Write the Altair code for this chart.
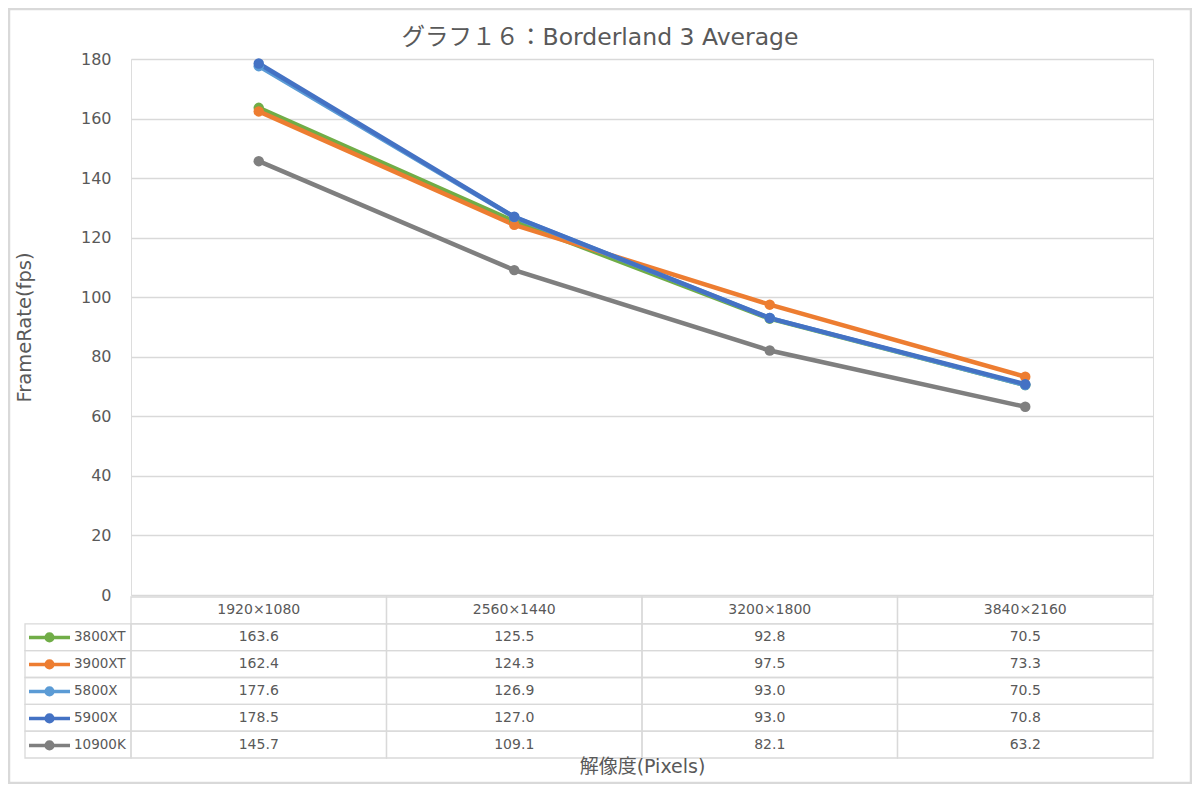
import altair as alt
import pandas as pd

FONT = "DejaVu Sans, Noto Sans CJK JP"
TXT = "#595959"
GRID = "#d9d9d9"

resolutions = ["1920×1080", "2560×1440", "3200×1800", "3840×2160"]
series_names = ["3800XT", "3900XT", "5800X", "5900X", "10900K"]
fps_3800xt = [163.6, 125.5, 92.8, 70.5]
fps_3900xt = [162.4, 124.3, 97.5, 73.3]
fps_5800x = [177.6, 126.9, 93.0, 70.5]
fps_5900x = [178.5, 127.0, 93.0, 70.8]
fps_10900k = [145.7, 109.1, 82.1, 63.2]
colors = ["#70AD47", "#ED7D31", "#5B9BD5", "#4472C4", "#7F7F7F"]
y_ticks = [0, 20, 40, 60, 80, 100, 120, 140, 160, 180]

all_vals = [fps_3800xt, fps_3900xt, fps_5800x, fps_5900x, fps_10900k]
recs = []
for name, vals in zip(series_names, all_vals):
    for r, v in zip(resolutions, vals):
        recs.append({"series": name, "resolution": r, "fps": v, "row": name, "label": f"{v:.1f}"})
df = pd.DataFrame(recs)
hdr = pd.DataFrame({"resolution": resolutions, "row": "hdr", "label": resolutions})
cells = pd.concat([df[["resolution", "row", "label"]], hdr], ignore_index=True)
legend_rows = pd.DataFrame({"row": series_names})

W, H = 1022, 536
PL, PT, PR, PB = 123, 51, 39, 189

row_domain = ["hdr"] + series_names
row_scale = alt.Scale(domain=row_domain, range=[H + 2, H + 163], paddingInner=0, paddingOuter=0)
x_scale = alt.Scale(type="band", domain=resolutions, paddingInner=0, paddingOuter=0)
x_axis = alt.Axis(labels=False, ticks=False, domain=False, grid=False,
                  title="解像度(Pixels)", titlePadding=162, titleFontSize=19,
                  titleColor=TXT, titleFont=FONT, titleFontWeight="normal")

color_scale = alt.Scale(domain=series_names, range=colors)
legend = alt.Legend(
    orient="none", legendX=-104, legendY=H + 29, title=None,
    symbolType="M-1,0L1,0M-0.16,0a0.16,0.16 0 1,0 0.32,0a0.16,0.16 0 1,0 -0.32,0",
    symbolSize=1681, symbolStrokeWidth=3.5, clipHeight=26.8, rowPadding=0, padding=0,
    labelFontSize=13.5, labelColor=TXT, labelFont=FONT, labelOffset=2, offset=0,
)

lines = alt.Chart(df).mark_line(
    strokeWidth=4.5, point=alt.OverlayMarkDef(filled=True, size=110, opacity=1)
).encode(
    x=alt.X("resolution:N", scale=x_scale, axis=x_axis, bandPosition=0.5),
    y=alt.Y("fps:Q", scale=alt.Scale(domain=[0, 180], nice=False, zero=True),
            axis=alt.Axis(values=y_ticks, grid=True, gridColor=GRID, gridWidth=1.3,
                          domain=False, ticks=False, labelFontSize=16, labelColor=TXT,
                          labelFont=FONT, labelPadding=20, title="FrameRate(fps)",
                          titleFontSize=19.5, titleColor=TXT, titleFont=FONT,
                          titleFontWeight="normal", titlePadding=46)),
    color=alt.Color("series:N", scale=color_scale, legend=legend, sort=series_names),
)

cell_rects = alt.Chart(cells).mark_rect(
    fill="white", fillOpacity=0, stroke=GRID, strokeWidth=1.3
).encode(
    x=alt.X("resolution:N", scale=x_scale, axis=x_axis),
    y=alt.Y("row:N", scale=row_scale, axis=None),
)

legend_cells = alt.Chart(legend_rows).mark_rect(
    fill="white", fillOpacity=0, stroke=GRID, strokeWidth=1.3
).encode(
    x=alt.value(-106), x2=alt.value(0),
    y=alt.Y("row:N", scale=row_scale, axis=None),
)

cell_text = alt.Chart(cells).mark_text(
    fontSize=14, color=TXT, font=FONT, baseline="middle"
).encode(
    x=alt.X("resolution:N", scale=x_scale, axis=x_axis, bandPosition=0.5),
    y=alt.Y("row:N", scale=row_scale, axis=None, bandPosition=0.5),
    text="label:N",
)

border = alt.Chart(pd.DataFrame({"a": [0]})).mark_rect(
    fill="white", fillOpacity=0, stroke=GRID, strokeWidth=2.5
).encode(
    x=alt.value(-PL + 1), x2=alt.value(W + PR - 1),
    y=alt.value(-PT + 1), y2=alt.value(H + PB - 1),
)

chart = alt.layer(border, cell_rects, legend_cells, cell_text, lines).resolve_scale(
    y="independent"
).properties(
    width=W, height=H,
    autosize=alt.AutoSizeParams(type="none"),
    padding={"left": PL, "top": PT, "right": PR, "bottom": PB},
    title=alt.TitleParams("グラフ１６：Borderland 3 Average", fontSize=23.5, font=FONT,
                          color=TXT, fontWeight="normal", anchor="middle", offset=0,
                          dx=-42, dy=42),
).configure_view(stroke=None).configure(background="white")

chart.save("out.html", embed_options={"renderer": "svg", "actions": False})
